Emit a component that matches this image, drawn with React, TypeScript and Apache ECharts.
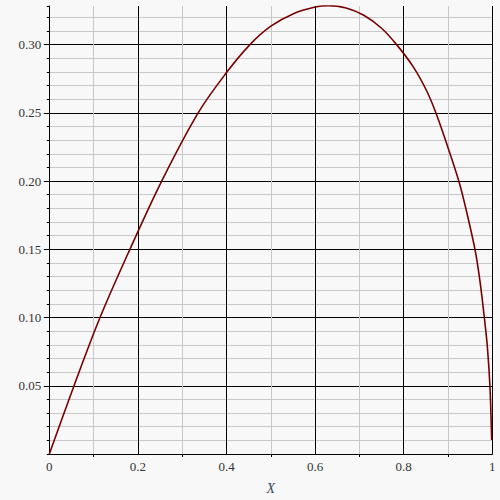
import React, { useEffect, useRef } from "react";
import * as echarts from "echarts";

const xValues = [
  0, 0.0558, 0.1145, 0.182, 0.2537, 0.336, 0.4, 0.453, 0.5, 0.55, 0.6, 0.63, 0.67,
  0.71, 0.75, 0.784, 0.822, 0.852, 0.873, 0.9, 0.925, 0.942, 0.961, 0.972, 0.982,
  0.989, 0.9946, 0.9986,
];
const yValues = [
  0, 0.05, 0.1, 0.15, 0.2, 0.25, 0.2795, 0.3, 0.3135, 0.3225, 0.3275, 0.3286, 0.3268,
  0.3215, 0.312, 0.3, 0.2835, 0.266, 0.2497, 0.2245, 0.1993, 0.1775, 0.1497, 0.127, 0.1,
  0.078, 0.05, 0.0103,
];
const xTickLabels = [0, 0.2, 0.4, 0.6, 0.8, 1];
const xMinorTicks = [0.1, 0.3, 0.5, 0.7, 0.9];
const yTickLabels = [0.05, 0.1, 0.15, 0.2, 0.25, 0.3];

export default function App() {
  const ref = useRef<HTMLDivElement>(null);
  useEffect(() => {
    if (!ref.current) return;
    const chart = echarts.init(ref.current, null, { renderer: "svg" });
    const font = "'Liberation Serif', 'DejaVu Serif', serif";
    const data = xValues.map((x, i) => [x, yValues[i]]);
    chart.setOption({
      animation: false,
      backgroundColor: "#f8f8f8",
      grid: { left: 49.3, right: 7.7, top: 6, bottom: 42.5 },
      xAxis: [
        {
          type: "value",
          position: "bottom",
          min: 0,
          max: 1,
          interval: 0.1,
          name: "X",
          nameLocation: "middle",
          nameGap: 27,
          nameTextStyle: { fontFamily: font, fontStyle: "italic", fontSize: 14, color: "#34495a" },
          axisLine: { show: true, onZero: false, lineStyle: { color: "#000", width: 1 } },
          axisTick: { show: false },
          axisLabel: {
            customValues: xTickLabels,
            margin: 6,
            fontFamily: font,
            fontSize: 13,
            color: "#333",
            formatter: (v: number) => String(+v.toFixed(1)),
          },
          splitLine: { show: true, lineStyle: { color: ["#000", "#c8c8c8"], width: 1 } },
        },
        {
          type: "value",
          position: "bottom",
          min: 0,
          max: 1,
          interval: 0.1,
          axisLine: { show: false, onZero: false },
          axisTick: { show: true, length: 3, customValues: xMinorTicks, lineStyle: { color: "#000" } },
          axisLabel: { show: false },
          splitLine: { show: false },
        },
      ],
      yAxis: [
        {
          type: "value",
          position: "left",
          min: 0,
          max: 0.3283,
          interval: 0.01,
          axisLine: { show: true, onZero: false, lineStyle: { color: "#000", width: 1 } },
          axisTick: { show: true, length: 2.5, lineStyle: { color: "#000" } },
          axisLabel: { show: false },
          splitLine: {
            show: true,
            showMaxLine: false,
            lineStyle: { color: ["#000", "#c8c8c8", "#c8c8c8", "#c8c8c8", "#c8c8c8"], width: 1 },
          },
        },
        {
          type: "value",
          position: "left",
          min: 0,
          max: 0.3283,
          interval: 0.05,
          axisLine: { show: false },
          axisTick: { show: true, length: 5.5, customValues: yTickLabels, lineStyle: { color: "#000" } },
          axisLabel: {
            customValues: yTickLabels,
            margin: 8,
            fontFamily: font,
            fontSize: 13,
            color: "#333",
            formatter: (v: number) => v.toFixed(2),
          },
          splitLine: { show: false },
        },
      ],
      series: [
        {
          type: "line",
          xAxisIndex: 0,
          yAxisIndex: 0,
          data,
          showSymbol: false,
          smooth: 0.35,
          lineStyle: { color: "#780000", width: 1.6 },
        },
      ],
    });
    return () => chart.dispose();
  }, []);
  return (
    <div
      ref={ref}
      style={{ position: "absolute", left: 0, top: 0, width: 500, height: 500 }}
    />
  );
}
